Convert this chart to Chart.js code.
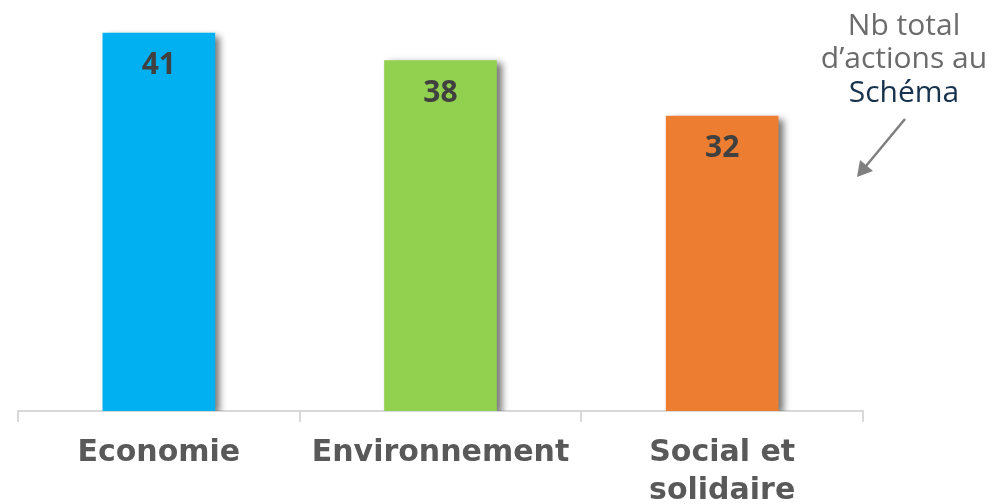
<!DOCTYPE html>
<html>
<head>
<meta charset="utf-8">
<script src="https://cdn.jsdelivr.net/npm/chart.js@4.4.0/dist/chart.umd.min.js"></script>
<style>
  body { margin: 0; background: #fff; }
  #wrap { width: 992px; height: 504px; position: relative; }
</style>
</head>
<body>
<div id="wrap"><canvas id="actionsChart"></canvas></div>
<script>
// data
var categories = ["Economie", "Environnement", ["Social et", "solidaire"]];
var actions = [41, 38, 32];
var barColors = ["#00b0f0", "#92d050", "#ed7d31"];
var noteLines = ["Nb total", "d\u2019actions au", "Schéma"];

// shadow under the bars
var barShadow = {
    id: "barShadow",
    beforeDatasetsDraw: function (chart) {
        var ctx = chart.ctx;
        ctx.save();
        ctx.shadowColor = "rgba(0,0,0,0.55)";
        ctx.shadowBlur = 7;
        ctx.shadowOffsetX = 5;
        ctx.shadowOffsetY = 3;
    },
    afterDatasetsDraw: function (chart) {
        chart.ctx.restore();
    }
};

// value labels inside the top of each bar
var valueLabels = {
    id: "valueLabels",
    afterDatasetsDraw: function (chart) {
        var ctx = chart.ctx;
        var meta = chart.getDatasetMeta(0);
        ctx.save();
        ctx.font = "bold 30px 'Open Sans', sans-serif";
        ctx.fillStyle = "#404040";
        ctx.textAlign = "center";
        ctx.textBaseline = "middle";
        meta.data.forEach(function (bar, i) {
            ctx.fillText(actions[i], bar.x, bar.y + 33);
        });
        ctx.restore();
    }
};

// note with arrow on the right
var totalNote = {
    id: "totalNote",
    afterDraw: function (chart) {
        var ctx = chart.ctx;
        var cx = 904;
        ctx.save();
        ctx.font = "30px 'Open Sans', sans-serif";
        ctx.textAlign = "center";
        ctx.textBaseline = "alphabetic";
        ctx.fillStyle = "#6b6b6b";
        ctx.fillText(noteLines[0], cx, 35);
        ctx.fillText(noteLines[1], cx, 68);
        ctx.fillStyle = "#17324d";
        ctx.fillText(noteLines[2], cx, 102);

        ctx.strokeStyle = "#7f7f7f";
        ctx.fillStyle = "#7f7f7f";
        ctx.lineWidth = 2.5;
        ctx.beginPath();
        ctx.moveTo(905, 119);
        ctx.lineTo(866, 166);
        ctx.stroke();
        ctx.beginPath();
        ctx.moveTo(857, 177);
        ctx.lineTo(860, 160);
        ctx.lineTo(873, 171);
        ctx.closePath();
        ctx.fill();
        ctx.restore();
    }
};

new Chart("actionsChart", {
    type: "bar",
    data: {
        labels: categories,
        datasets: [{
            data: actions,
            backgroundColor: barColors,
            borderWidth: 0,
            barPercentage: 0.4,
            categoryPercentage: 1.0
        }]
    },
    options: {
        responsive: true,
        maintainAspectRatio: false,
        animation: { duration: 0 },
        layout: {
            padding: { left: 18, right: 129, top: 5, bottom: 0 }
        },
        plugins: {
            legend: { display: false },
            tooltip: { enabled: false }
        },
        scales: {
            y: {
                display: false,
                min: 0,
                max: 44
            },
            x: {
                afterFit: function (scale) { scale.height = 93; },
                border: { display: true, color: "#d9d9d9", width: 2 },
                grid: {
                    offset: true,
                    drawOnChartArea: false,
                    drawTicks: true,
                    tickLength: 11,
                    color: "#d9d9d9",
                    lineWidth: 2
                },
                ticks: {
                    color: "#595959",
                    padding: 12,
                    maxRotation: 0,
                    font: { family: "'DejaVu Sans', sans-serif", size: 30, weight: "bold", lineHeight: 1.27 }
                }
            }
        }
    },
    plugins: [barShadow, valueLabels, totalNote]
});
</script>
</body>
</html>
